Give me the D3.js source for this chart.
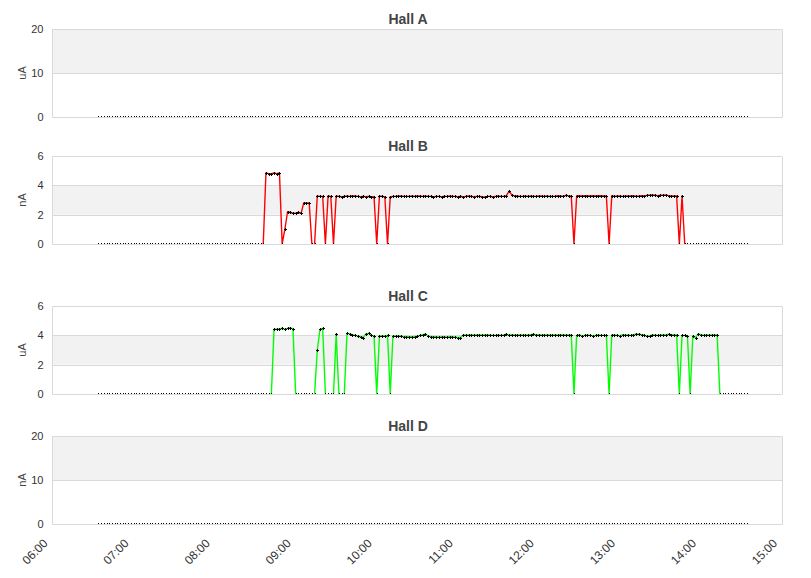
<!DOCTYPE html>
<html><head><meta charset="utf-8">
<script src="https://cdn.jsdelivr.net/npm/d3@7"></script>
<style>
body{margin:0;background:#fff;}
svg{display:block;font-family:"Liberation Sans",Arial,sans-serif;}
</style></head>
<body><svg id="c" width="811" height="578"></svg>
<script>
// ---- data ----
const panelTitles = ["Hall A","Hall B","Hall C","Hall D"];
const unitLabels = ["uA","nA","uA","nA"];
const yTickSets = [[0,10,20],[0,2,4,6],[0,2,4,6],[0,10,20]];
const xTickLabels = ["06:00","07:00","08:00","09:00","10:00","11:00","12:00","13:00","14:00","15:00"];
const sampleStart = "06:34";   // first sample time
const sampleStepMin = 2;        // minutes between samples
const lineColors = [null,"#ff0000","#00ff00",null];

const hallA = [
0,0,0,0,0,0,0,0,0,0,0,0,0,0,0,0,0,0,0,0,0,0,0,0,0,0,0,0,0,0,0,0,0,0,0,0,0,0,0,0,
0,0,0,0,0,0,0,0,0,0,0,0,0,0,0,0,0,0,0,0,0,0,0,0,0,0,0,0,0,0,0,0,0,0,0,0,0,0,0,0,
0,0,0,0,0,0,0,0,0,0,0,0,0,0,0,0,0,0,0,0,0,0,0,0,0,0,0,0,0,0,0,0,0,0,0,0,0,0,0,0,
0,0,0,0,0,0,0,0,0,0,0,0,0,0,0,0,0,0,0,0,0,0,0,0,0,0,0,0,0,0,0,0,0,0,0,0,0,0,0,0,
0,0,0,0,0,0,0,0,0,0,0,0,0,0,0,0,0,0,0,0,0,0,0,0,0,0,0,0,0,0,0,0,0,0,0,0,0,0,0,0,
0,0,0,0,0,0,0,0,0,0,0,0,0,0,0,0,0,0,0,0,0,0,0,0,0,0,0,0,0,0,0,0,0,0,0,0,0,0,0,0,
0];

const hallB = [
0,0,0,0,0,0,0,0,0,0,0,0,0,0,0,0,0,0,0,0,0,0,0,0,0,0,0,0,0,0,0,0,0,0,0,0,0,0,0,0,
0,0,0,0,0,0,0,0,0,0,0,0,0,0,0,0,0,0,0,0,0,0,
4.85,4.8,4.8,4.85,4.8,4.85,
0,1.0,
2.2,2.15,2.1,2.1,2.15,2.1,
2.8,2.8,2.8,
0,0,
3.27,3.25,3.25,
0,
3.27,3.25,
0,
3.27,3.25,3.22,3.25,3.27,3.25,3.3,3.28,3.25,3.22,3.25,3.22,3.25,3.22,3.22,
0,
3.27,3.25,3.22,
0,
3.22,3.25,3.25,3.27,3.27,3.25,3.25,3.25,3.27,3.25,3.28,3.28,
3.25,3.27,3.25,3.25,3.22,3.25,3.25,3.22,3.25,3.25,3.27,3.25,
3.25,3.22,3.25,3.22,3.25,3.27,3.25,3.22,3.25,3.25,3.22,3.2,
3.25,3.25,3.22,3.25,3.27,3.25,3.25,3.3,
3.6,
3.35,3.28,3.27,3.25,3.25,3.27,3.25,3.28,3.25,3.25,3.27,
3.27,3.25,3.27,3.25,3.25,3.25,3.3,3.28,3.25,3.32,3.28,3.27,
0,
3.27,3.3,3.27,3.3,3.3,3.27,3.3,3.27,3.3,3.3,3.27,3.27,
0,
3.3,3.25,3.27,3.27,3.25,3.27,3.27,3.27,3.3,3.25,3.27,3.3,3.27,3.32,3.32,3.35,3.32,3.3,3.32,3.32,3.35,3.3,3.27,3.27,3.27,
0,
3.27,
0,0,0,0,0,0,0,0,0,0,0,0,0,0,0,0,0,0,0,0,0,0,0,0];

const hallC = [
0,0,0,0,0,0,0,0,0,0,0,0,0,0,0,0,0,0,0,0,0,0,0,0,0,0,0,0,0,0,0,0,0,0,0,0,0,0,0,0,
0,0,0,0,0,0,0,0,0,0,0,0,0,0,0,0,0,0,0,0,0,0,0,0,0,
4.41,4.41,4.43,4.48,4.41,4.48,4.52,4.43,
0,0,0,0,0,0,0,0,
3.0,4.41,4.48,
0,0,0,0,
4.1,
0,0,0,
4.15,4.1,4.05,4.0,3.95,3.9,3.85,4.1,4.15,4.0,3.95,
0,
3.95,3.95,3.95,4.0,
0,
3.95,3.95,3.95,3.95,3.9,3.92,3.9,3.9,3.92,3.95,4.0,4.05,
4.1,3.95,3.92,3.9,3.9,3.88,3.9,3.9,3.88,3.92,3.9,3.88,3.85,3.85,
4.02,4.02,4.02,4.02,4.02,4.02,4.02,4.02,4.02,4.02,4.02,4.0,
4.0,4.02,4.0,4.02,4.08,4.0,4.05,4.02,4.02,4.02,4.02,4.02,
4.02,4.05,4.08,4.02,4.05,4.02,4.02,4.02,4.02,4.02,4.02,4.02,
4.05,4.02,4.02,4.02,4.02,
0,
4.0,4.02,3.98,4.0,4.02,4.0,3.98,4.0,4.02,4.0,4.0,4.0,
0,
4.02,4.02,4.0,3.98,4.05,4.02,4.02,4.0,4.05,4.1,4.08,4.05,4.02,3.95,3.98,4.02,4.02,4.0,4.02,4.05,4.02,4.08,4.05,4.02,4.02,
0,
4.0,4.0,3.95,
0,
3.95,3.85,4.1,4.05,4.0,4.02,4.02,4.02,4.02,4.02,
0,0,0,0,0,0,0,0,0,0,0];

const hallD = [
0,0,0,0,0,0,0,0,0,0,0,0,0,0,0,0,0,0,0,0,0,0,0,0,0,0,0,0,0,0,0,0,0,0,0,0,0,0,0,0,
0,0,0,0,0,0,0,0,0,0,0,0,0,0,0,0,0,0,0,0,0,0,0,0,0,0,0,0,0,0,0,0,0,0,0,0,0,0,0,0,
0,0,0,0,0,0,0,0,0,0,0,0,0,0,0,0,0,0,0,0,0,0,0,0,0,0,0,0,0,0,0,0,0,0,0,0,0,0,0,0,
0,0,0,0,0,0,0,0,0,0,0,0,0,0,0,0,0,0,0,0,0,0,0,0,0,0,0,0,0,0,0,0,0,0,0,0,0,0,0,0,
0,0,0,0,0,0,0,0,0,0,0,0,0,0,0,0,0,0,0,0,0,0,0,0,0,0,0,0,0,0,0,0,0,0,0,0,0,0,0,0,
0,0,0,0,0,0,0,0,0,0,0,0,0,0,0,0,0,0,0,0,0,0,0,0,0,0,0,0,0,0,0,0,0,0,0,0,0,0,0,0,
0];

const series = [hallA, hallB, hallC, hallD];

// ---- layout ----
const plotLeft = 52.5, plotRight = 782;
const panelTops = [29, 156, 306, 436];
const panelH = 88;
const svg = d3.select("#c");
const parse = d3.timeParse("%H:%M");
const x = d3.scaleTime().domain([parse(xTickLabels[0]), parse(xTickLabels[xTickLabels.length-1])]).range([plotLeft, plotRight]);
const t0 = parse(sampleStart);
const timeOf = i => new Date(t0.getTime() + i*sampleStepMin*60000);

const defs = svg.append("defs");

series.forEach((vals, p) => {
  const top = panelTops[p], bottom = top + panelH;
  const ticks = yTickSets[p];
  const y = d3.scaleLinear().domain([ticks[0], ticks[ticks.length-1]]).range([bottom, top]);
  const g = svg.append("g");

  // bands
  for (let k = 1; k < ticks.length - 1; k += 2) {
    g.append("rect").attr("x", plotLeft).attr("width", plotRight - plotLeft)
      .attr("y", y(ticks[k+1])).attr("height", y(ticks[k]) - y(ticks[k+1]))
      .attr("fill", "#f2f2f2");
  }
  // grid
  g.selectAll("line.grid").data(ticks).enter().append("line")
    .attr("x1", plotLeft).attr("x2", plotRight)
    .attr("y1", d => Math.round(y(d)) + 0.5).attr("y2", d => Math.round(y(d)) + 0.5)
    .attr("stroke", "#d9d9d9").attr("stroke-width", 1);
  // borders left/right
  [plotLeft, plotRight].forEach(xx => g.append("line")
    .attr("x1", Math.floor(xx)+0.5).attr("x2", Math.floor(xx)+0.5)
    .attr("y1", Math.round(y(ticks[ticks.length-1]))+0.5).attr("y2", Math.round(y(0))+0.5)
    .attr("stroke", "#d9d9d9"));

  // y axis
  const ya = d3.axisLeft(y).tickValues(ticks).tickSize(0).tickPadding(9).tickFormat(d3.format("d"));
  const yg = g.append("g").attr("transform", `translate(${plotLeft},0)`).call(ya);
  yg.select(".domain").remove();
  yg.selectAll("text").attr("font-size", 11).attr("fill", "#333").attr("font-family", "Liberation Sans, Arial, sans-serif");

  // unit label
  g.append("text").attr("transform", `translate(26,${(top+bottom)/2}) rotate(-90)`)
    .attr("text-anchor", "middle").attr("font-size", 11).attr("fill", "#444").text(unitLabels[p]);

  // title
  g.append("text").attr("x", 408).attr("y", top - 5).attr("text-anchor", "middle")
    .attr("font-size", 14).attr("font-weight", "bold").attr("fill", "#444").text(panelTitles[p]);

  // clip
  const cid = "clip" + p;
  defs.append("clipPath").attr("id", cid).append("rect")
    .attr("x", plotLeft).attr("y", top - 2).attr("width", plotRight - plotLeft).attr("height", panelH + 2);

  const pts = vals.map((v, i) => ({t: timeOf(i), v}));
  const plot = g.append("g").attr("clip-path", `url(#${cid})`);
  if (lineColors[p]) {
    const segs = [];
    for (let i = 1; i < pts.length; i++) {
      if (pts[i-1].v !== 0 || pts[i].v !== 0) segs.push([pts[i-1], pts[i]]);
    }
    const line = d3.line().x(d => x(d.t)).y(d => y(d.v));
    // merge contiguous segments into paths
    const paths = [];
    let cur = null;
    segs.forEach(s => {
      if (cur && cur[cur.length-1] === s[0]) cur.push(s[1]);
      else { cur = [s[0], s[1]]; paths.push(cur); }
    });
    plot.selectAll("path.ln").data(paths).enter().append("path")
      .attr("d", line).attr("fill", "none").attr("stroke", lineColors[p])
      .attr("stroke-width", 1.4).attr("stroke-linejoin", "round");
  }
  plot.selectAll("path.mk").data(pts).enter().append("path")
    .attr("d", d => { const cx = Math.round(x(d.t)) + 0.5, cy = Math.round(y(d.v)) + 0.5;
      return `M${cx-1.5},${cy}H${cx+1.5}M${cx},${cy-1.5}V${cy+1.5}`; })
    .attr("stroke", "#000").attr("stroke-width", 1).attr("fill", "none");
});

// x axis labels under last panel
const xb = panelTops[3] + panelH;
const xa = svg.append("g");
xa.selectAll("text").data(xTickLabels).enter().append("text")
  .attr("transform", d => `translate(${x(parse(d)) - 4},${xb + 20}) rotate(-45)`)
  .attr("text-anchor", "end").attr("font-size", 12).attr("fill", "#333")
  .text(d => d);
</script>
</body></html>
